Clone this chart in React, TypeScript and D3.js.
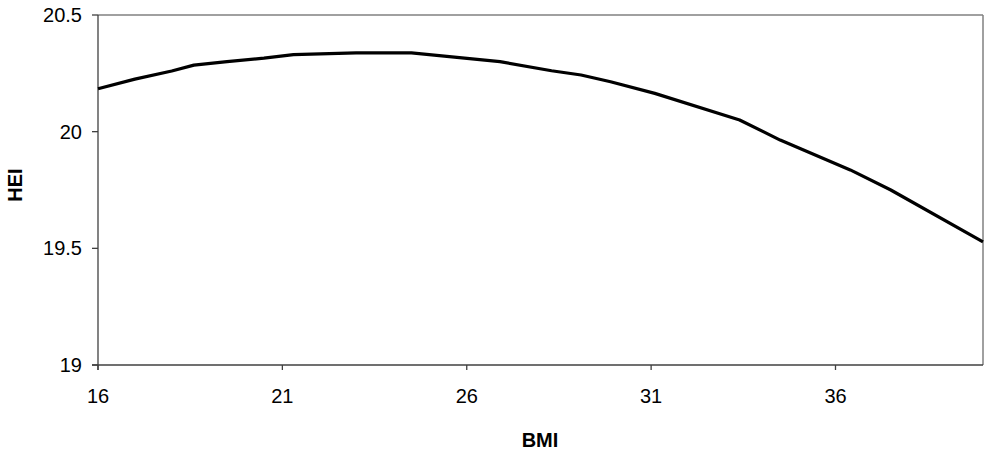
import React from "react";
import * as d3 from "d3";

const bmi = [16, 17, 18, 18.6, 19.5, 20.5, 21.3, 23.0, 24.5, 26.9, 28.3, 29.1, 29.9, 31.1, 33.4, 34.5, 36.4, 37.5, 40];
const hei = [20.184, 20.225, 20.26, 20.285, 20.3, 20.315, 20.33, 20.338, 20.338, 20.3, 20.261, 20.243, 20.214, 20.164, 20.05, 19.964, 19.836, 19.75, 19.528];
const xTicks = [16, 21, 26, 31, 36];
const yTicks = [19, 19.5, 20, 20.5];

const W = 984, H = 450;
const left = 98, right = 983, top = 15, bottom = 365;

export default function App() {
  const x = d3.scaleLinear().domain([16, 40]).range([left, right]);
  const y = d3.scaleLinear().domain([19, 20.5]).range([bottom, top]);
  const pts = bmi.map((b, i) => [b, hei[i]] as [number, number]);
  const line = d3.line<[number, number]>().x(d => x(d[0])).y(d => y(d[1]));
  const font = "Liberation Sans, Arial, sans-serif";
  return (
    <svg width={W} height={H} style={{ position: "absolute", left: 0, top: 0, background: "#fff" }} fontFamily={font}>
      <rect x={0} y={0} width={W} height={H} fill="#fff" />
      <line x1={left} x2={right} y1={top} y2={top} stroke="#808080" strokeWidth={1.5} />
      <line x1={right} x2={right} y1={top} y2={bottom} stroke="#808080" strokeWidth={1.5} />
      <line x1={left} x2={left} y1={top} y2={bottom + 5} stroke="#404040" strokeWidth={1.3} />
      <line x1={left - 6} x2={right} y1={bottom} y2={bottom} stroke="#404040" strokeWidth={1.3} />
      {yTicks.map(t => (
        <g key={"y" + t}>
          <line x1={left - 6} x2={left} y1={y(t)} y2={y(t)} stroke="#404040" strokeWidth={1.3} />
          <text x={82} y={y(t) + 7} textAnchor="end" fontSize={20} fill="#000">{String(t)}</text>
        </g>
      ))}
      {xTicks.map(t => (
        <g key={"x" + t}>
          <line x1={x(t)} x2={x(t)} y1={bottom} y2={bottom + 5} stroke="#404040" strokeWidth={1.3} />
          <text x={x(t)} y={402.5} textAnchor="middle" fontSize={20} fill="#000">{String(t)}</text>
        </g>
      ))}
      <path d={line(pts) ?? ""} fill="none" stroke="#000" strokeWidth={3.2} strokeLinejoin="round" />
      <text x={540} y={446.5} textAnchor="middle" fontSize={20} fontWeight="bold" fill="#000">BMI</text>
      <text transform={`translate(21.5,185) rotate(-90)`} textAnchor="middle" fontSize={20} fontWeight="bold" fill="#000">HEI</text>
    </svg>
  );
}
